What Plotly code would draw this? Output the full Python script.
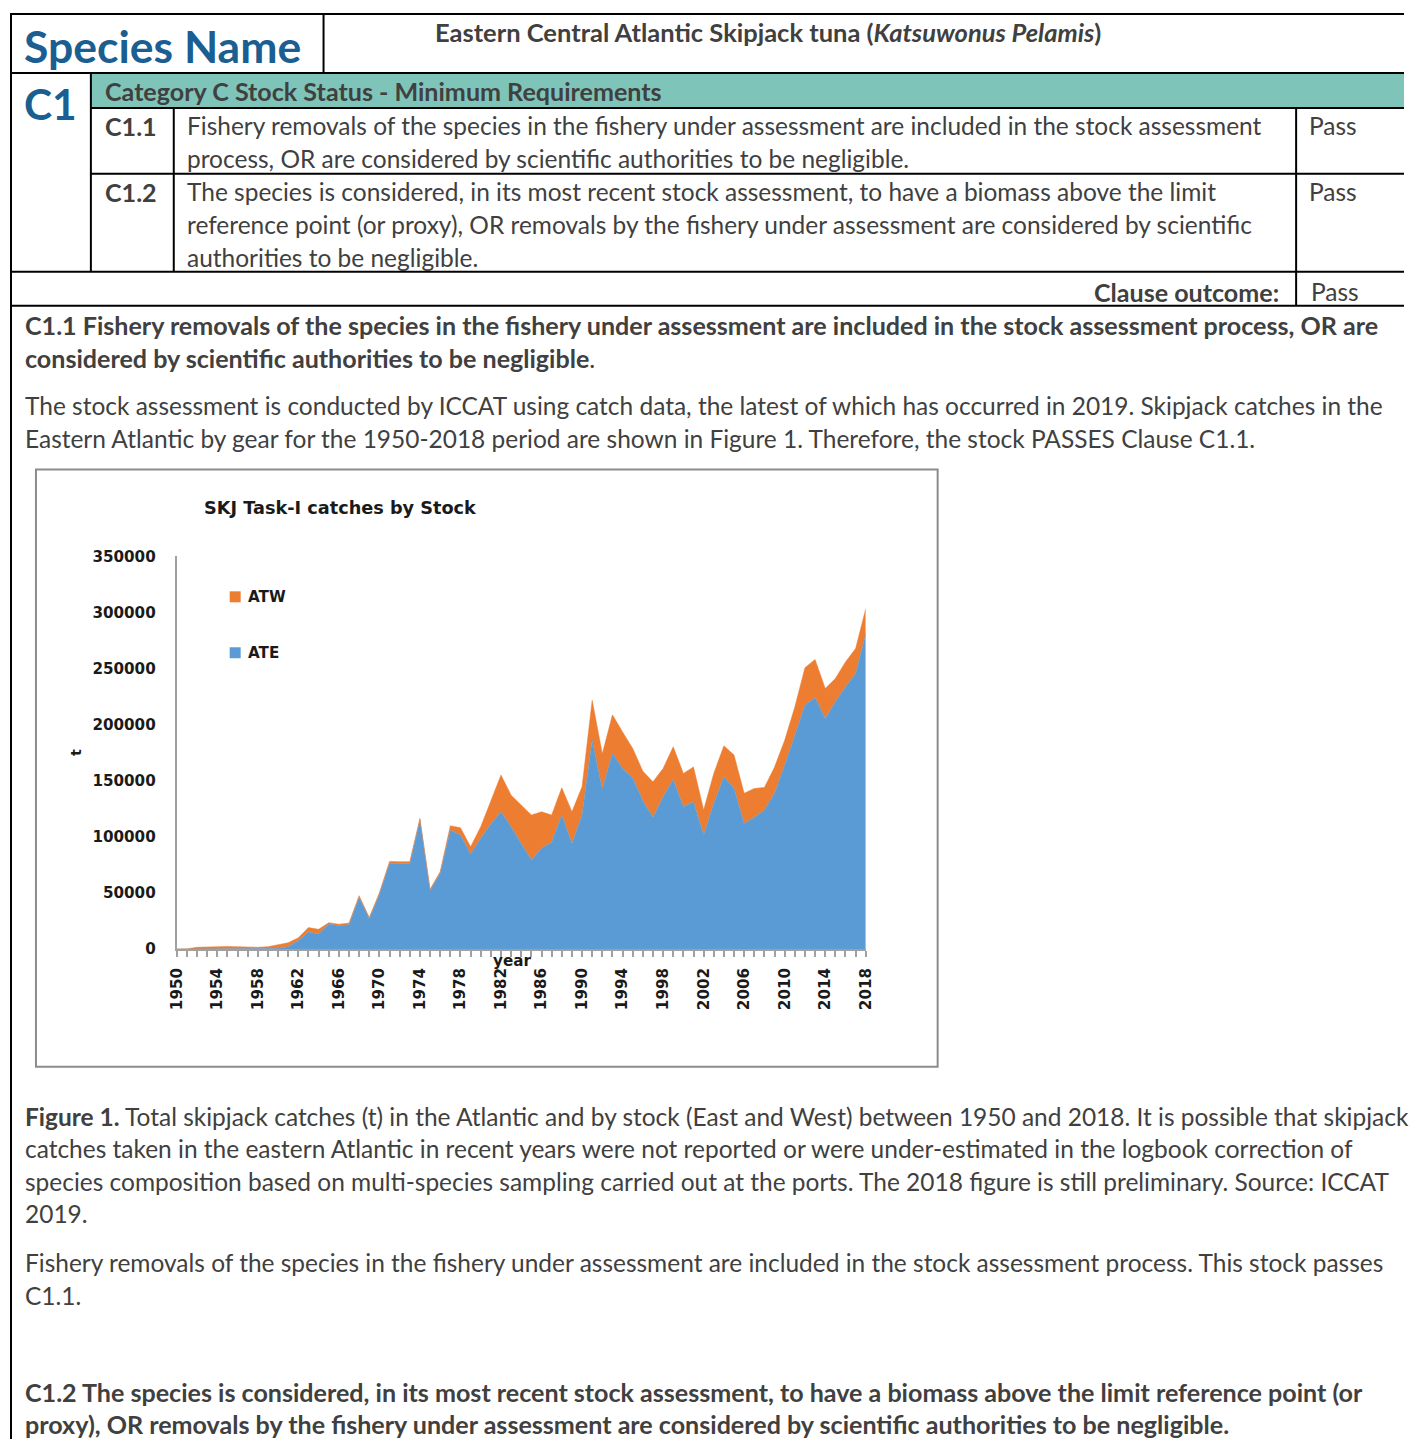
import plotly.graph_objects as go

# ---------------- data ----------------
years = list(range(1950, 2019))
ate = [0, 0, 0, 0, 0, 0, 0, 0, 0, 0,
       500, 2000, 7400, 15000, 13400, 22200, 20800, 21500, 46000, 27000,
       48500, 76300, 76000, 76000, 114900, 52000, 67400, 105800, 101500, 84600,
       98600, 111300, 122300, 108900, 94100, 79300, 89700, 95000, 119300, 94100,
       119300, 186100, 142300, 174500, 160800, 152700, 132000, 117300, 135600, 151100,
       126700, 131200, 101500, 129700, 153400, 143100, 111900, 117300, 123800, 138700,
       163900, 190600, 217300, 224200, 205500, 220300, 233600, 245500, 281100]
atw = [0, 0, 1500, 1800, 2000, 2200, 2000, 1500, 1500, 2000,
       3000, 3500, 2600, 4000, 4100, 1200, 1200, 1500, 1500, 1000,
       1500, 1700, 1800, 1800, 1500, 1200, 1500, 4000, 6500, 6500,
       10300, 19900, 32700, 28200, 34100, 40000, 32600, 24300, 24400, 28200,
       25200, 35600, 31700, 34200, 32700, 26000, 26500, 31700, 25300, 29100,
       29800, 31100, 22300, 26800, 27700, 29700, 26800, 25800, 20200, 23600,
       22200, 25200, 33500, 33800, 26700, 20800, 22300, 22300, 22300]
x_tick_years = [1950, 1954, 1958, 1962, 1966, 1970, 1974, 1978, 1982, 1986,
                1990, 1994, 1998, 2002, 2006, 2010, 2014, 2018]
x_tick_labels = ["1950", "1954", "1958", "1962", "1966", "1970", "1974", "1978", "1982",
                 "1986", "1990", "1994", "1998", "2002", "2006", "2010", "2014", "2018"]
y_tick_vals = [0, 50000, 100000, 150000, 200000, 250000, 300000, 350000]
y_tick_labels = ["0", "50000", "100000", "150000", "200000", "250000", "300000", "350000"]
series_names = ["ATE", "ATW"]

# ---------------- helpers ----------------
W, H = 1413, 1448
PAD = 8
S = 1 / 0.9887   # compensate the capture framing
def X(p):
    return min(max((p - PAD) * S / W, 0), 1)
def Y(p):
    return min(max(1 - (p - PAD) * S / H, 0), 1)
def F(s):
    return round(s * S, 2)

BLUE = "#5B9BD5"
ORANGE = "#ED7D31"
TXT = "#404040"
HEAD = "#1B5E91"
TEAL = "#7FC4B8"
DOC_FONT = "Lato"
CH_FONT = "DejaVu Sans"
AX = "#a0a0a0"
CH_TXT = "#1a1a1a"
REG = F(24.2)
BLD = F(24.8)
DX = -2.5   # side-bearing correction for left-aligned document text

fig = go.Figure()
fig.add_trace(go.Scatter(x=years, y=ate, name=series_names[0], stackgroup="one", mode="lines",
                         line=dict(width=0.5, color=BLUE), fillcolor=BLUE, showlegend=False))
fig.add_trace(go.Scatter(x=years, y=atw, name=series_names[1], stackgroup="one", mode="lines",
                         line=dict(width=0.5, color=ORANGE), fillcolor=ORANGE, showlegend=False))

shapes = []
def hline(y, x0, x1, w=2, c="black"):
    shapes.append(dict(type="line", xref="paper", yref="paper", x0=X(x0), x1=X(x1), y0=Y(y), y1=Y(y),
                       line=dict(color=c, width=w)))
def vline(x, y0, y1, w=2, c="black"):
    shapes.append(dict(type="line", xref="paper", yref="paper", x0=X(x), x1=X(x), y0=Y(y0), y1=Y(y1),
                       line=dict(color=c, width=w)))
def rect(x0, y0, x1, y1, fill=None, line=None, lw=0):
    shapes.append(dict(type="rect", xref="paper", yref="paper", x0=X(x0), x1=X(x1), y0=Y(y1), y1=Y(y0),
                       fillcolor=fill if fill else "rgba(0,0,0,0)",
                       line=dict(color=line if line else "rgba(0,0,0,0)", width=lw),
                       layer="below" if fill else "above"))

# teal header band
rect(90, 73, 1413, 107, fill=TEAL)
# table lines
hline(13, 10, 1413)
hline(72, 10, 1413)
hline(107, 90, 1413)
hline(173, 90, 1413)
hline(271, 10, 1413)
hline(305, 10, 1413)
vline(10, 12, 1448)
vline(323, 13, 72)
vline(90, 72, 271)
vline(173, 107, 271)
vline(1297, 107, 305)
# chart box
rect(35, 469, 938, 1067, line="#8c8c8c", lw=2)
# legend swatches
rect(229, 591, 240, 602, fill=ORANGE)
rect(229, 647, 240, 658, fill=BLUE)

annotations = []
def txt(x, y, s, size=REG, color=TXT, anchor="left", family=DOC_FONT, angle=0):
    if family == DOC_FONT and anchor == "left":
        x = x + DX
    annotations.append(dict(x=X(x), y=Y(y), xref="paper", yref="paper", text=s, showarrow=False,
                            xanchor=anchor, yanchor="middle", textangle=angle,
                            font=dict(family=family, size=size, color=color)))

# header table
txt(24, 45, "<b>Species Name</b>", size=F(44), color=HEAD)
txt(435, 31, "<b>Eastern Central Atlantic Skipjack tuna (<i>Katsuwonus Pelamis</i>)</b>", size=F(25.2))
txt(24, 103, "<b>C1</b>", size=F(42), color=HEAD)
txt(105, 90, "<b>Category C Stock Status - Minimum Requirements</b>", size=BLD)
txt(105, 125, "<b>C1.1</b>", size=BLD)
txt(187, 125, "Fishery removals of the species in the fishery under assessment are included in the stock assessment")
txt(187, 158, "process, OR are considered by scientific authorities to be negligible.")
txt(1310, 125, "Pass")
txt(105, 191, "<b>C1.2</b>", size=BLD)
txt(187, 191, "The species is considered, in its most recent stock assessment, to have a biomass above the limit")
txt(187, 224, "reference point (or proxy), OR removals by the fishery under assessment are considered by scientific")
txt(187, 257, "authorities to be negligible.")
txt(1310, 191, "Pass")
txt(1282, 291, "<b>Clause outcome:</b>", size=BLD, anchor="right")
txt(1312, 291, "Pass")

# body text
txt(25, 324, "<b>C1.1 Fishery removals of the species in the fishery under assessment are included in the stock assessment process, OR are</b>", size=BLD)
txt(25, 357, "<b>considered by scientific authorities to be negligible</b>.", size=BLD)
txt(25, 405, "The stock assessment is conducted by ICCAT using catch data, the latest of which has occurred in 2019. Skipjack catches in the")
txt(25, 438, "Eastern Atlantic by gear for the 1950-2018 period are shown in Figure 1. Therefore, the stock PASSES Clause C1.1.")
txt(25, 1117, "<b>Figure 1.</b> Total skipjack catches (t) in the Atlantic and by stock (East and West) between 1950 and 2018. It is possible that skipjack")
txt(25, 1149, "catches taken in the eastern Atlantic in recent years were not reported or were under-estimated in the logbook correction of")
txt(25, 1182, "species composition based on multi-species sampling carried out at the ports. The 2018 figure is still preliminary. Source: ICCAT")
txt(25, 1214, "2019.")
txt(25, 1263, "Fishery removals of the species in the fishery under assessment are included in the stock assessment process. This stock passes")
txt(25, 1296, "C1.1.")
txt(25, 1393, "<b>C1.2 The species is considered, in its most recent stock assessment, to have a biomass above the limit reference point (or</b>", size=BLD)
txt(25, 1425, "<b>proxy), OR removals by the fishery under assessment are considered by scientific authorities to be negligible.</b>", size=BLD)

# chart texts
txt(340, 508, "<b>SKJ Task-I catches by Stock</b>", size=F(17.5), color=CH_TXT, anchor="center", family=CH_FONT)
txt(245, 597, "<b>ATW</b>", size=F(15), color=CH_TXT, family=CH_FONT)
txt(245, 653, "<b>ATE</b>", size=F(15), color=CH_TXT, family=CH_FONT)
txt(512, 961, "<b>year</b>", size=F(15), color=CH_TXT, anchor="center", family=CH_FONT)
txt(75, 752, "<b>t</b>", size=F(14), color=CH_TXT, anchor="center", family=CH_FONT, angle=-90)

fig.update_layout(
    width=W, height=H, margin=dict(l=0, r=0, t=0, b=0),
    paper_bgcolor="white", plot_bgcolor="white",
    showlegend=False, shapes=shapes, annotations=annotations,
    xaxis=dict(domain=[X(176), X(866)], range=[1950, 2018], tickmode="array",
               tickvals=x_tick_years, ticktext=x_tick_labels, tickangle=-90,
               ticks="outside", ticklen=6, tickwidth=1.5, tickcolor=AX,
               minor=dict(dtick=1, tick0=1950, ticks="outside", ticklen=6, tickwidth=1.5, tickcolor=AX),
               showline=True, linecolor=AX, linewidth=2, showgrid=False, zeroline=False,
               ticklabelstandoff=5,
               tickfont=dict(family=CH_FONT, size=F(15), color=CH_TXT, weight="bold")),
    yaxis=dict(domain=[Y(949), Y(556)], range=[0, 350000], tickmode="array",
               tickvals=y_tick_vals, ticktext=y_tick_labels, ticks="",
               showline=True, linecolor=AX, linewidth=2, showgrid=False, zeroline=False,
               ticklabelstandoff=16,
               tickfont=dict(family=CH_FONT, size=F(15), color=CH_TXT, weight="bold")),
)

fig.write_html("out.html", config={"displayModeBar": False, "responsive": False},
               post_script="document.body.style.margin='0';document.body.style.overflow='hidden';")
